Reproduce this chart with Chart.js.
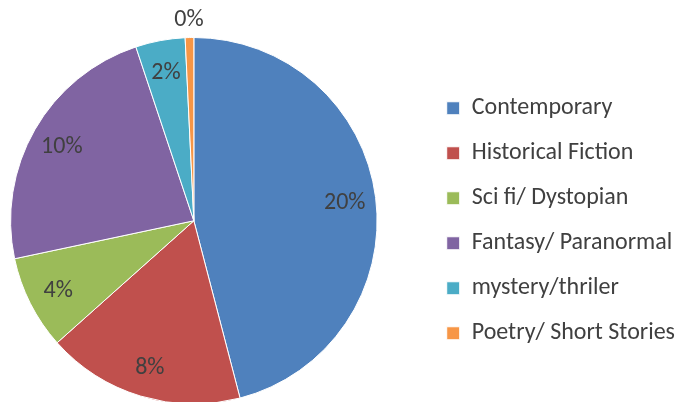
<!DOCTYPE html>
<html>
<head>
<meta charset="utf-8">
<script src="https://cdn.jsdelivr.net/npm/chart.js@4.4.1/dist/chart.umd.min.js"></script>
<style>
  html, body { margin: 0; padding: 0; background: #fff; overflow: hidden; }
  #wrap { width: 675px; height: 402px; overflow: hidden; position: relative; }
  #genreChart { position: absolute; left: -38px; top: 0; }
</style>
</head>
<body>
<div id="wrap"><canvas id="genreChart" width="725" height="406"></canvas></div>
<script>
var genres = ["Contemporary", "Historical Fiction", "Sci fi/ Dystopian", "Fantasy/ Paranormal", "mystery/thriler", "Poetry/ Short Stories"];
var shares = [20, 7.6, 3.6, 10.1, 1.9, 0.33];
var sliceColors = ['#4F81BD', '#C0504D', '#9BBB59', '#8064A2', '#4BACC6', '#F79646'];

var fontFamily = "Carlito, Calibri, Lato, sans-serif";
var textColor = '#404040';

// percent labels on the slices, tiny slices get pushed outside
var sliceLabels = {
    id: 'sliceLabels',
    afterDatasetsDraw: function (chart) {
        var ctx = chart.ctx;
        var meta = chart.getDatasetMeta(0);
        var values = chart.data.datasets[0].data;
        ctx.save();
        ctx.font = '24px ' + fontFamily;
        ctx.fillStyle = textColor;
        ctx.textAlign = 'center';
        ctx.textBaseline = 'middle';
        meta.data.forEach(function (arc, i) {
            var p = arc.getProps(['x', 'y', 'startAngle', 'endAngle', 'outerRadius'], true);
            var mid = (p.startAngle + p.endAngle) / 2;
            var dist = values[i] < 1 ? p.outerRadius + 20 : p.outerRadius * 0.83;
            var x = p.x + Math.cos(mid) * dist;
            var y = p.y + Math.sin(mid) * dist + 2;
            ctx.fillText(Math.round(values[i]) + '%', x, y);
        });
        ctx.restore();
    }
};

var ctx = document.getElementById('genreChart').getContext('2d');
var genreChart = new Chart(ctx, {
    type: 'pie',
    data: {
        labels: genres,
        datasets: [{
            data: shares,
            backgroundColor: sliceColors,
            borderColor: '#ffffff',
            borderWidth: 1
        }]
    },
    options: {
        responsive: false,
        animation: false,
        layout: {
            padding: { left: 0, top: 37, right: 2, bottom: 1.5 }
        },
        plugins: {
            legend: {
                position: 'right',
                labels: {
                    boxWidth: 13,
                    boxHeight: 13,
                    padding: 21,
                    color: textColor,
                    font: { family: fontFamily, size: 24 }
                }
            },
            tooltip: { enabled: false }
        }
    },
    plugins: [sliceLabels]
});
</script>
</body>
</html>
